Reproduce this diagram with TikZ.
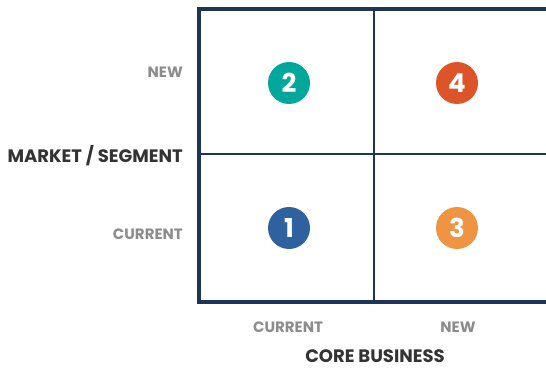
\documentclass[tikz,border=0pt]{standalone}
\usepackage{fontspec}
\setmainfont{Poppins}
\definecolor{frame}{HTML}{1D3557}
\definecolor{labelgray}{HTML}{8C8C8C}
\definecolor{darktext}{HTML}{333333}
\definecolor{teal}{HTML}{00A79A}
\definecolor{redorange}{HTML}{DE5429}
\definecolor{steelblue}{HTML}{2F619F}
\definecolor{lightorange}{HTML}{EE9442}

\begin{document}
\begin{tikzpicture}[x=1pt,y=-1pt,
		quad/.style={circle,minimum size=42pt,inner sep=0pt,text=white,font=\fontsize{26}{26}\selectfont\bfseries},
		tick/.style={text=labelgray,font=\fontsize{15}{15}\selectfont\bfseries,inner sep=0pt},
		axis/.style={text=darktext,font=\fontsize{18}{18}\selectfont\bfseries,inner sep=0pt}]
			\useasboundingbox (0,0) rectangle (546,369);
			% grid
			\draw[frame,line width=3.2pt] (546,9) -- (199,9) -- (199,302) -- (546,302);
			\draw[frame,line width=2.4pt] (374,9) -- (374,302);
			\draw[frame,line width=2.4pt] (199,154) -- (546,154);
			% quadrants
			\node[quad,fill=steelblue] (q1) at (289,228) {1};
			\node[quad,fill=teal] (q2) at (289,83) {2};
			\node[quad,fill=lightorange] (q3) at (457,228) {3};
			\node[quad,fill=redorange] (q4) at (457,83) {4};
			% market axis
			\node[tick,anchor=east] (mnew) at (183,72) {NEW};
			\node[tick,anchor=east] (mcur) at (183,234) {CURRENT};
			\node[axis,anchor=east] (market) at (183,156) {MARKET / SEGMENT};
			% business axis
			\node[tick] (bcur) at (288,327) {CURRENT};
			\node[tick] (bnew) at (458,327) {NEW};
			\node[axis] (business) at (375,356) {CORE BUSINESS};
		\end{tikzpicture}
\end{document}
